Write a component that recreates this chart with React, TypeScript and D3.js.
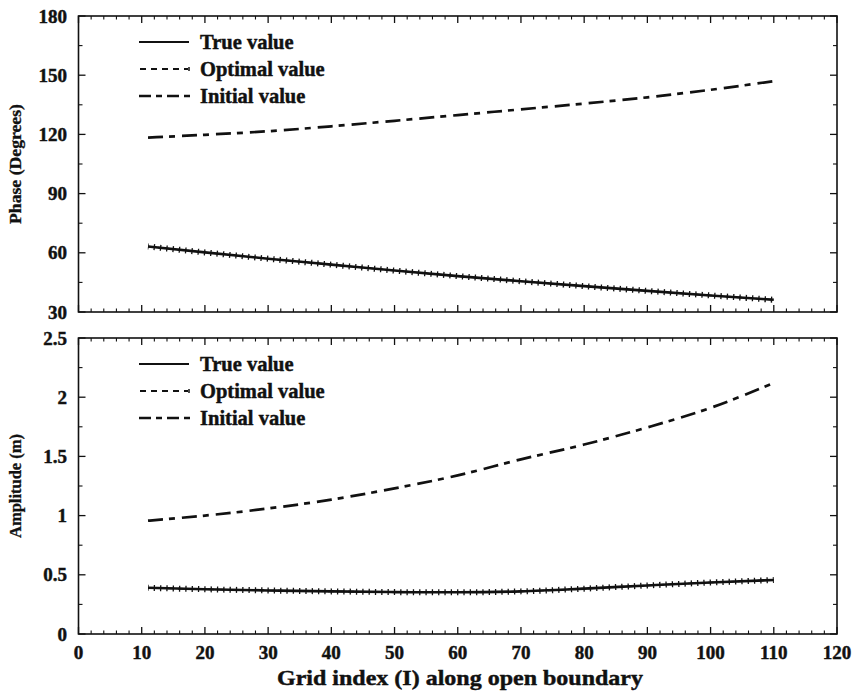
import React from "react";
import * as d3 from "d3";

// Grid indices along the open boundary where values are sampled
const gridIndex = [11, 20, 30, 40, 50, 60, 70, 80, 90, 100, 110];

// Phase (degrees)
const phaseTrue = [63.2, 60.2, 57.0, 54.0, 51.0, 48.2, 45.6, 43.1, 40.7, 38.4, 36.2];
const phaseOptimal = [63.2, 60.2, 57.0, 54.0, 51.0, 48.2, 45.6, 43.1, 40.7, 38.4, 36.2];
const phaseInitial = [118.4, 119.8, 121.6, 124.1, 126.9, 129.8, 132.7, 135.6, 138.8, 142.6, 147.0];

// Amplitude (m)
const ampTrue = [0.39, 0.378, 0.368, 0.36, 0.354, 0.352, 0.36, 0.383, 0.41, 0.435, 0.456];
const ampOptimal = [0.39, 0.378, 0.368, 0.36, 0.354, 0.352, 0.36, 0.383, 0.41, 0.435, 0.456];
const ampInitial = [0.957, 1.0, 1.06, 1.135, 1.23, 1.34, 1.475, 1.6, 1.745, 1.91, 2.12];

// Axis ticks
const xTicks = [0, 10, 20, 30, 40, 50, 60, 70, 80, 90, 100, 110, 120];
const phaseTicks = [30, 60, 90, 120, 150, 180];
const ampTicks = [0, 0.5, 1, 1.5, 2, 2.5];
const ampTickLabels = ["0", "0.5", "1", "1.5", "2", "2.5"];

const legendLabels = ["True value", "Optimal value", "Initial value"];

const W = 856;
const H = 693;
const LEFT = 78.5;
const RIGHT = 837;
const FONT = "'Liberation Serif', 'Times New Roman', serif";
const INK = "#111";

const x = d3.scaleLinear().domain([0, 120]).range([LEFT, RIGHT]);

const INITIAL_DASH = "15 6 6 7";
const OPTIMAL_DASH = "6 4";

// heavy bold type
const textStyle = {
  fontFamily: FONT,
  fontWeight: "bold" as const,
  fill: INK,
  stroke: INK,
  strokeWidth: 0.45,
};

type PanelProps = {
  top: number;
  bottom: number;
  domain: [number, number];
  ticks: number[];
  tickLabels: string[];
  minorStep: number;
  title: string;
  titleLength: number;
  trueVals: number[];
  optVals: number[];
  initVals: number[];
};

function Panel(p: PanelProps) {
  const y = d3.scaleLinear().domain(p.domain).range([p.bottom, p.top]);
  const line = d3
    .line<number>()
    .x((_, i) => x(gridIndex[i]))
    .y((v) => y(v))
    .curve(d3.curveMonotoneX);

  const xMinor = d3.range(0, 120.001, 2).filter((v) => v % 10 !== 0);
  const yMinor = d3
    .range(p.domain[0], p.domain[1] + 1e-9, p.minorStep)
    .filter((v) => !p.ticks.some((t) => Math.abs(t - v) < 1e-9));

  const legendTop = p.top + 26;
  const rowGap = 27;

  return (
    <g>
      {/* plot frame */}
      <rect
        x={LEFT}
        y={p.top}
        width={RIGHT - LEFT}
        height={p.bottom - p.top}
        fill="none"
        stroke={INK}
        strokeWidth={1.6}
      />
      {/* x ticks on bottom and top edges */}
      {xTicks.map((t) => (
        <g key={"xm" + t}>
          <line x1={x(t)} x2={x(t)} y1={p.bottom} y2={p.bottom - 7} stroke={INK} strokeWidth={1.3} />
          <line x1={x(t)} x2={x(t)} y1={p.top} y2={p.top + 7} stroke={INK} strokeWidth={1.3} />
        </g>
      ))}
      {xMinor.map((t) => (
        <g key={"xn" + t}>
          <line x1={x(t)} x2={x(t)} y1={p.bottom} y2={p.bottom - 3.5} stroke={INK} strokeWidth={1.1} />
          <line x1={x(t)} x2={x(t)} y1={p.top} y2={p.top + 3.5} stroke={INK} strokeWidth={1.1} />
        </g>
      ))}
      {/* y ticks on left and right edges */}
      {p.ticks.map((t) => (
        <g key={"ym" + t}>
          <line x1={LEFT} x2={LEFT + 7} y1={y(t)} y2={y(t)} stroke={INK} strokeWidth={1.3} />
          <line x1={RIGHT} x2={RIGHT - 7} y1={y(t)} y2={y(t)} stroke={INK} strokeWidth={1.3} />
        </g>
      ))}
      {yMinor.map((t) => (
        <g key={"yn" + t}>
          <line x1={LEFT} x2={LEFT + 4} y1={y(t)} y2={y(t)} stroke={INK} strokeWidth={1.1} />
          <line x1={RIGHT} x2={RIGHT - 4} y1={y(t)} y2={y(t)} stroke={INK} strokeWidth={1.1} />
        </g>
      ))}
      {/* y tick labels */}
      {p.ticks.map((t, i) => (
        <text key={"yl" + t} x={67} y={y(t) + 6.5} textAnchor="end" fontSize={19} {...textStyle}>
          {p.tickLabels[i]}
        </text>
      ))}
      {/* y axis title */}
      <text
        transform={`translate(21,${(p.top + p.bottom) / 2}) rotate(-90)`}
        textAnchor="middle"
        fontSize={16}
        textLength={p.titleLength}
        lengthAdjust="spacingAndGlyphs"
        {...textStyle}
        strokeWidth={0.3}
      >
        {p.title}
      </text>

      {/* series */}
      <path d={line(p.initVals) ?? ""} fill="none" stroke={INK} strokeWidth={2.7} strokeDasharray={INITIAL_DASH} />
      <path d={line(p.trueVals) ?? ""} fill="none" stroke={INK} strokeWidth={2.6} />
      <path d={line(p.optVals) ?? ""} fill="none" stroke={INK} strokeWidth={1.6} strokeDasharray={OPTIMAL_DASH} />
      {/* cross markers of the optimal series, one per grid cell */}
      <path
        d={line(p.optVals) ?? ""}
        fill="none"
        stroke={INK}
        strokeWidth={6}
        strokeDasharray={`1.3 ${x(1) - x(0) - 1.3}`}
        strokeDashoffset={0.65}
      />

      {/* legend */}
      {legendLabels.map((lab, i) => {
        const ly = legendTop + i * rowGap;
        return (
          <g key={lab}>
            {i === 0 && <line x1={139} x2={189} y1={ly} y2={ly} stroke={INK} strokeWidth={2.2} />}
            {i === 1 && (
              <g>
                <line x1={140} x2={188} y1={ly} y2={ly} stroke={INK} strokeWidth={1.9} strokeDasharray="6 5" />
                <line x1={189} x2={189} y1={ly - 2} y2={ly + 2} stroke={INK} strokeWidth={1.5} />
              </g>
            )}
            {i === 2 && (
              <line x1={139} x2={190} y1={ly} y2={ly} stroke={INK} strokeWidth={2.4} strokeDasharray="12 5 6 5" />
            )}
            <text x={200} y={ly + 7} fontSize={20.5} {...textStyle}>
              {lab}
            </text>
          </g>
        );
      })}
    </g>
  );
}

export default function App() {
  return (
    <svg
      width={W}
      height={H}
      viewBox={`0 0 ${W} ${H}`}
      style={{ position: "absolute", left: 0, top: 0, background: "#fff" }}
    >
      <rect width={W} height={H} fill="#fff" />
      <Panel
        top={16}
        bottom={312}
        domain={[30, 180]}
        ticks={phaseTicks}
        tickLabels={phaseTicks.map(String)}
        minorStep={15}
        title="Phase (Degrees)"
        titleLength={120}
        trueVals={phaseTrue}
        optVals={phaseOptimal}
        initVals={phaseInitial}
      />
      <Panel
        top={338}
        bottom={634}
        domain={[0, 2.5]}
        ticks={ampTicks}
        tickLabels={ampTickLabels}
        minorStep={0.25}
        title="Amplitude (m)"
        titleLength={104}
        trueVals={ampTrue}
        optVals={ampOptimal}
        initVals={ampInitial}
      />
      {/* shared x tick labels */}
      {xTicks.map((t) => (
        <text key={"xl" + t} x={x(t)} y={659} textAnchor="middle" fontSize={19} {...textStyle}>
          {t}
        </text>
      ))}
      <text
        x={460}
        y={685}
        textAnchor="middle"
        fontSize={22}
        textLength={366}
        lengthAdjust="spacingAndGlyphs"
        {...textStyle}
      >
        Grid index (I) along open boundary
      </text>
    </svg>
  );
}
